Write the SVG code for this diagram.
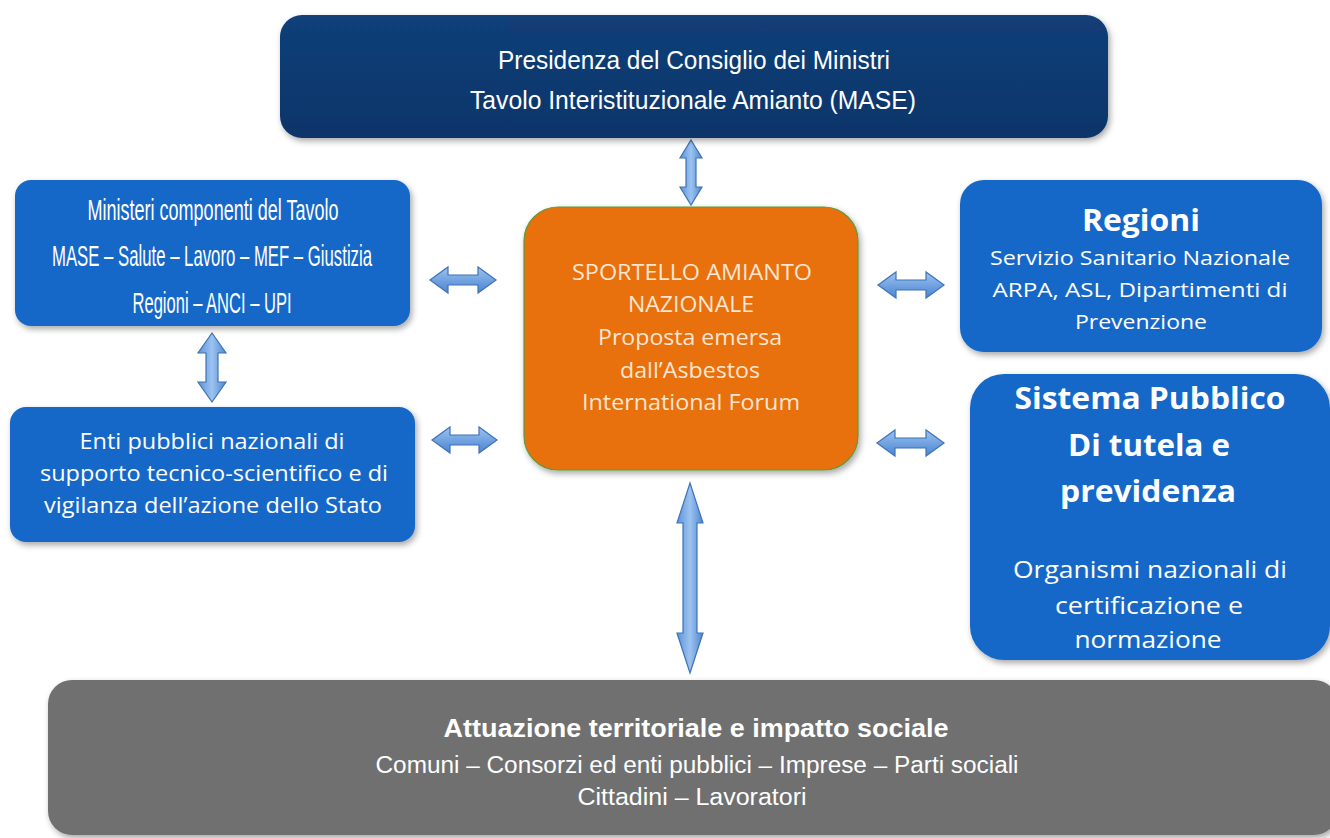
<svg xmlns="http://www.w3.org/2000/svg" width="1330" height="838" viewBox="0 0 1330 838">
<style>
text{font-family:"Open Sans","Liberation Sans",sans-serif;text-anchor:middle;fill:#ffffff}
.cond{font-family:"Liberation Sans","Noto Sans",sans-serif}
.big{font-weight:bold;font-size:31px}
.orange{fill:#fde6d2;font-size:21px}
.arrow{fill:url(#ag);stroke:#3f72b8;stroke-width:1.2}
</style>
<defs>
<filter id="sh" x="-5%" y="-5%" width="110%" height="115%">
<feDropShadow dx="2" dy="3" stdDeviation="3" flood-color="#000" flood-opacity="0.35"/>
</filter>
<linearGradient id="agv" x1="0" y1="0" x2="1" y2="0">
<stop offset="0" stop-color="#5b93dc"/><stop offset="0.5" stop-color="#9cc3ef"/><stop offset="1" stop-color="#4f86d0"/>
</linearGradient>
<linearGradient id="ag" x1="0" y1="0" x2="0" y2="1">
<stop offset="0" stop-color="#9cc3ef"/><stop offset="1" stop-color="#4a84d2"/>
</linearGradient>
<linearGradient id="navy" x1="0" y1="0" x2="0" y2="1">
<stop offset="0" stop-color="#123f78"/><stop offset="1" stop-color="#0c356a"/>
</linearGradient>
</defs>
<rect width="1330" height="838" fill="#ffffff"/>

<g id="connectors">
<path class="arrow" d="M430 280 L448 267 L448 275 L478 275 L478 267 L496 280 L478 293 L478 285 L448 285 L448 293 Z"/>
<path class="arrow" d="M432 440 L450 427 L450 435 L479 435 L479 427 L497 440 L479 453 L479 445 L450 445 L450 453 Z"/>
<path class="arrow" d="M878 285 L896 272 L896 280 L926 280 L926 272 L944 285 L926 298 L926 290 L896 290 L896 298 Z"/>
<path class="arrow" d="M877 443 L895 430 L895 438 L926 438 L926 430 L944 443 L926 456 L926 448 L895 448 L895 456 Z"/>
<path class="arrow" style="fill:url(#agv)" d="M691 140 L702 158 L696 158 L696 187 L702 187 L691 205 L680 187 L686 187 L686 158 L680 158 Z"/>
<path class="arrow" style="fill:url(#agv)" d="M212 333 L226 353 L218 353 L218 382 L226 382 L212 402 L198 382 L206 382 L206 353 L198 353 Z"/>
<path class="arrow" style="fill:url(#agv)" d="M690 483 L703 523 L697 523 L697 633 L703 633 L690 673 L677 633 L683 633 L683 523 L677 523 Z"/>
</g>

<g id="presidenza">
<rect x="280" y="15" width="828" height="123" rx="22" fill="url(#navy)" filter="url(#sh)"/>
<text class="cond" x="694" y="69" font-size="26" textLength="392" lengthAdjust="spacingAndGlyphs">Presidenza del Consiglio dei Ministri</text>
<text class="cond" x="693" y="109" font-size="26" textLength="446" lengthAdjust="spacingAndGlyphs">Tavolo Interistituzionale Amianto (MASE)</text>
</g>

<g id="ministeri">
<rect x="15" y="180" width="395" height="146" rx="16" fill="#1768c8" filter="url(#sh)"/>
<text class="cond" x="213" y="220" font-size="29" textLength="251" lengthAdjust="spacingAndGlyphs">Ministeri componenti del Tavolo</text>
<text class="cond" x="212" y="266" font-size="29" textLength="320" lengthAdjust="spacingAndGlyphs">MASE – Salute – Lavoro – MEF – Giustizia</text>
<text class="cond" x="212" y="313" font-size="29" textLength="159" lengthAdjust="spacingAndGlyphs">Regioni – ANCI – UPI</text>
</g>

<g id="enti">
<rect x="10" y="407" width="405" height="135" rx="16" fill="#1768c8" filter="url(#sh)"/>
<text x="212" y="449" font-size="21" textLength="265" lengthAdjust="spacingAndGlyphs">Enti pubblici nazionali di</text>
<text x="214" y="481" font-size="21" textLength="348" lengthAdjust="spacingAndGlyphs">supporto tecnico-scientifico e di</text>
<text x="213" y="513" font-size="21" textLength="338" lengthAdjust="spacingAndGlyphs">vigilanza dell’azione dello Stato</text>
</g>

<g id="sportello">
<rect x="524" y="207" width="334" height="263" rx="34" fill="#e8700e" stroke="#5e9a3a" stroke-width="1.2" filter="url(#sh)"/>
<text class="orange" x="692" y="280" textLength="240" lengthAdjust="spacingAndGlyphs">SPORTELLO AMIANTO</text>
<text class="orange" x="691" y="312" textLength="126" lengthAdjust="spacingAndGlyphs">NAZIONALE</text>
<text class="orange" x="690" y="345" textLength="184" lengthAdjust="spacingAndGlyphs">Proposta emersa</text>
<text class="orange" x="690" y="378" textLength="140" lengthAdjust="spacingAndGlyphs">dall’Asbestos</text>
<text class="orange" x="691" y="410" textLength="218" lengthAdjust="spacingAndGlyphs">International Forum</text>
</g>

<g id="regioni">
<rect x="960" y="180" width="362" height="172" rx="24" fill="#1768c8" filter="url(#sh)"/>
<text class="big" x="1141" y="231" textLength="118" lengthAdjust="spacingAndGlyphs">Regioni</text>
<text x="1140" y="265" font-size="20" textLength="300" lengthAdjust="spacingAndGlyphs">Servizio Sanitario Nazionale</text>
<text x="1140" y="297" font-size="20" textLength="295" lengthAdjust="spacingAndGlyphs">ARPA,  ASL, Dipartimenti di</text>
<text x="1141" y="329" font-size="20" textLength="132" lengthAdjust="spacingAndGlyphs">Prevenzione</text>
</g>

<g id="sistema">
<rect x="970" y="374" width="360" height="286" rx="34" fill="#1768c8" filter="url(#sh)"/>
<text class="big" x="1150" y="409" textLength="271" lengthAdjust="spacingAndGlyphs">Sistema Pubblico</text>
<text class="big" x="1149" y="456" textLength="162" lengthAdjust="spacingAndGlyphs">Di tutela e</text>
<text class="big" x="1148" y="502" textLength="176" lengthAdjust="spacingAndGlyphs">previdenza</text>
<text x="1150" y="578" font-size="23" textLength="274" lengthAdjust="spacingAndGlyphs">Organismi nazionali di</text>
<text x="1149" y="614" font-size="23" textLength="188" lengthAdjust="spacingAndGlyphs">certificazione e</text>
<text x="1148" y="648" font-size="23" textLength="147" lengthAdjust="spacingAndGlyphs">normazione</text>
</g>

<g id="attuazione">
<rect x="48" y="680" width="1290" height="155" rx="24" fill="#6f6f6f" filter="url(#sh)"/>
<text class="cond" x="696" y="737" font-size="25" font-weight="bold" textLength="505" lengthAdjust="spacingAndGlyphs">Attuazione territoriale e impatto sociale</text>
<text class="cond" x="697" y="773" font-size="23" textLength="643" lengthAdjust="spacingAndGlyphs">Comuni – Consorzi ed enti pubblici – Imprese – Parti sociali</text>
<text class="cond" x="692" y="805" font-size="23" textLength="229" lengthAdjust="spacingAndGlyphs">Cittadini – Lavoratori</text>
</g>
</svg>
